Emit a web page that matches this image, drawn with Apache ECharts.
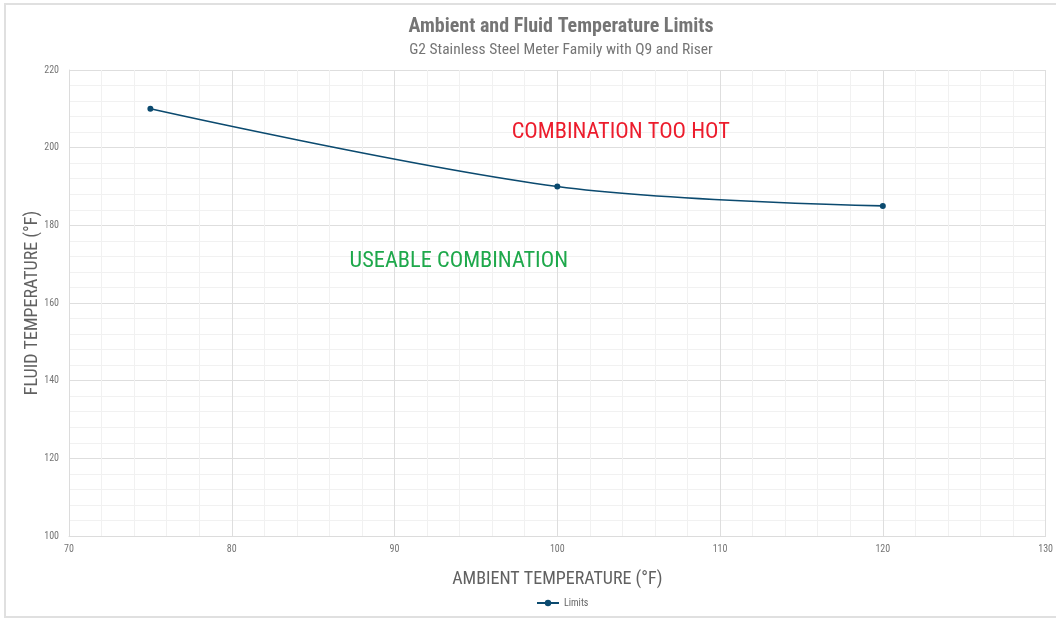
<!DOCTYPE html>
<html><head><meta charset="utf-8">
<script src="https://cdn.jsdelivr.net/npm/echarts@6/dist/echarts.min.js"></script>
<style>html,body{margin:0;padding:0;background:#fff}#c{width:1056px;height:619px}</style>
</head><body><div id="c"></div>
<script>
const ambient = [75, 100, 120];
const fluid = [210, 190, 185];
const xTicks = [70, 130, 10];
const yTicks = [100, 220, 20];
const FONT = '"Roboto Condensed","Liberation Sans Narrow",Roboto,sans-serif';
const chart = echarts.init(document.getElementById('c'));
chart.setOption({
  animation: false,
  textStyle: {fontFamily: FONT},
  title: {
    text: 'Ambient and Fluid Temperature Limits',
    subtext: 'G2 Stainless Steel Meter Family with Q9 and Riser',
    left: 556, textAlign: 'center', top: 12, itemGap: 5,
    textStyle: {fontFamily: FONT, fontSize: 20, fontWeight: 'bold', color: '#757575'},
    subtextStyle: {fontFamily: FONT, fontSize: 15.5, color: '#757575'}
  },
  graphic: [
    {type: 'rect', shape: {x: 5, y: 4, width: 1060, height: 613}, style: {fill: 'none', stroke: '#e0e0e0', lineWidth: 2}, silent: true}
  ],
  legend: {
    bottom: 6, left: 531, itemWidth: 22, itemHeight: 8, itemGap: 2,
    textStyle: {fontFamily: FONT, fontSize: 10, color: '#666'},
    data: ['Limits']
  },
  grid: {left: 69, right: 3, top: 70, bottom: 83},
  xAxis: {
    type: 'value', min: xTicks[0], max: xTicks[1], interval: xTicks[2],
    name: 'AMBIENT TEMPERATURE (°F)', nameLocation: 'middle', nameGap: 34,
    nameTextStyle: {fontFamily: FONT, fontSize: 18, color: '#616161'},
    axisLine: {show: true, lineStyle: {color: '#dcdcdc'}},
    axisTick: {show: false},
    axisLabel: {fontFamily: FONT, fontSize: 10, color: '#757575', margin: 8},
    splitLine: {show: true, lineStyle: {color: '#dedede'}},
    minorTick: {show: false, splitNumber: 5},
    minorSplitLine: {show: true, lineStyle: {color: '#f1f1f1'}}
  },
  yAxis: {
    type: 'value', min: yTicks[0], max: yTicks[1], interval: yTicks[2],
    name: 'FLUID TEMPERATURE (°F)', nameLocation: 'middle', nameGap: 28,
    nameMoveOverlap: false,
    nameTextStyle: {fontFamily: FONT, fontSize: 18, color: '#616161'},
    axisLine: {show: true, lineStyle: {color: '#dcdcdc'}},
    axisTick: {show: false},
    axisLabel: {fontFamily: FONT, fontSize: 10, color: '#757575', margin: 10},
    splitLine: {show: true, lineStyle: {color: '#dedede'}},
    minorTick: {show: false, splitNumber: 5},
    minorSplitLine: {show: true, lineStyle: {color: '#f1f1f1'}}
  },
  series: [{
    name: 'Limits', type: 'line', smooth: 0.35,
    data: ambient.map((a, i) => [a, fluid[i]]),
    symbol: 'circle', symbolSize: 6,
    lineStyle: {color: '#0b4a6f', width: 1.6},
    itemStyle: {color: '#0b4a6f'},
    markPoint: {
      symbol: 'circle', symbolSize: 0, silent: true,
      data: [
        {coord: [103.9, 204.0], label: {show: true, formatter: 'COMBINATION TOO HOT', color: '#ec1c2c', fontSize: 22.4, fontFamily: FONT}},
        {coord: [93.95, 170.8], label: {show: true, formatter: 'USEABLE COMBINATION', color: '#1ea84b', fontSize: 22.4, fontFamily: FONT}}
      ]
    }
  }]
});
</script></body></html>
